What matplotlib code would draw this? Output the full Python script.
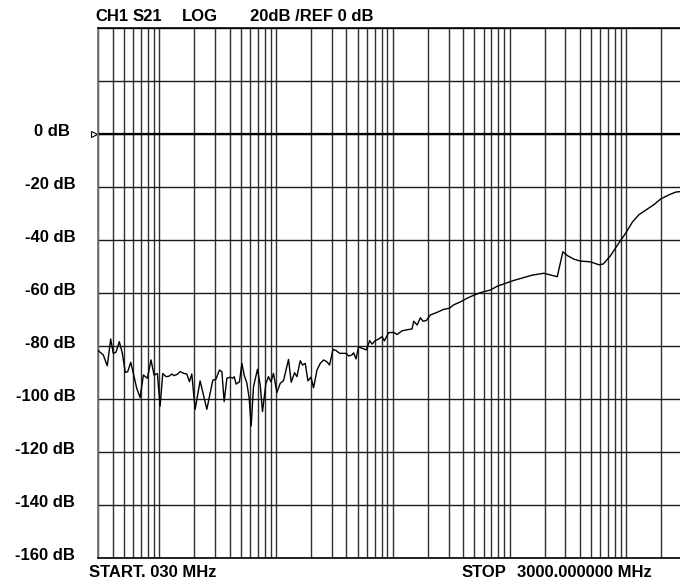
import matplotlib
matplotlib.use('Agg')
import matplotlib.pyplot as plt
import matplotlib.transforms as mtransforms
from matplotlib.ticker import LogLocator, NullFormatter, FixedLocator
import numpy as np

plt.rcParams['font.family'] = ['Liberation Sans', 'DejaVu Sans']

# Frekvens (MHz) og S21 (dB) lest av bildet
freq_mhz = [0.0300, 0.0331, 0.0358, 0.0383, 0.0403, 0.0425, 0.0454, 0.0482, 0.0511, 0.0536,
            0.0569, 0.0599, 0.0640, 0.0684, 0.0730, 0.0790, 0.0849, 0.0901, 0.0962, 0.1015,
            0.1070, 0.1142, 0.1212, 0.1279, 0.1338, 0.1428, 0.1506, 0.1630, 0.1719, 0.1810,
            0.1897, 0.2025, 0.2235, 0.2552, 0.2873, 0.3048, 0.3273, 0.3433, 0.3591, 0.3788,
            0.4045, 0.4266, 0.4375, 0.4551, 0.4857, 0.5093, 0.5331, 0.5623, 0.5884, 0.6119,
            0.6404, 0.6930, 0.7311, 0.7650, 0.8183, 0.8614, 0.9031, 0.9506, 1.016, 1.085,
            1.158, 1.278, 1.348, 1.439, 1.509, 1.610, 1.685, 1.778, 1.875, 1.989,
            2.094, 2.240, 2.390, 2.552, 2.729, 2.872, 3.072, 3.280, 3.501, 3.745,
            3.997, 4.182, 4.471, 4.615, 4.838, 5.093, 5.447, 5.931, 6.331, 6.638,
            7.084, 7.561, 8.085, 8.460, 9.209, 10.16, 10.87, 12.01, 13.25, 14.62,
            15.09, 16.14, 17.22, 18.17, 19.39, 20.98, 23.16, 25.22, 27.29, 30.53,
            33.24, 37.96, 43.32, 49.34, 56.31, 68.62, 78.33, 92.28, 108.7, 128.3,
            156.4, 196.6, 227.6, 256.2, 286.1, 312.1, 355.6, 405.8, 494.5, 582.7,
            635.4, 734.0, 847.7, 987.1, 1127, 1284, 1515, 1726, 1970, 2321,
            2649, 3000]
s21_db = [-81.7, -83.3, -87.4, -77.3, -82.7, -82.3, -78.3, -82.7, -89.9, -89.6,
          -86.1, -90.3, -95.9, -99.4, -90.9, -92.1, -85.2, -90.9, -90.3, -102.6,
          -90.3, -91.5, -91.3, -90.5, -91.1, -90.6, -89.6, -90.3, -90.5, -93.4,
          -90.5, -103.8, -93.1, -103.8, -92.8, -92.5, -89.0, -89.6, -100.9, -92.1,
          -91.7, -92.1, -91.5, -94.3, -93.4, -86.5, -90.9, -94.0, -99.7, -110.1,
          -95.3, -88.7, -94.6, -104.7, -94.0, -91.5, -93.4, -90.3, -97.5, -94.0,
          -93.0, -85.0, -93.6, -90.0, -91.5, -85.5, -87.1, -86.5, -93.1, -91.7,
          -95.7, -89.0, -86.5, -85.2, -85.9, -87.1, -81.2, -81.7, -82.7, -82.7,
          -82.7, -83.7, -83.3, -82.5, -84.8, -80.2, -80.8, -81.4, -77.9, -79.2,
          -77.9, -77.3, -76.4, -78.0, -74.9, -74.8, -75.6, -74.2, -73.8, -73.5,
          -70.6, -72.0, -69.3, -70.6, -70.3, -68.2, -67.5, -66.8, -66.1, -65.7,
          -64.4, -63.3, -61.9, -60.8, -59.8, -58.8, -57.4, -56.3, -55.2, -54.3,
          -53.2, -52.5, -53.2, -53.8, -44.4, -45.8, -47.2, -47.9, -48.2, -49.3,
          -49.0, -45.8, -41.6, -37.4, -33.2, -30.4, -28.3, -26.6, -24.5, -22.9,
          -21.9, -21.6]

y_levels = [0, -20, -40, -60, -80, -100, -120, -140, -160]
y_labels = ['0 dB', '-20 dB', '-40 dB', '-60 dB', '-80 dB', '-100 dB', '-120 dB', '-140 dB', '-160 dB']

W, H = 680, 584
fig = plt.figure(figsize=(W / 100, H / 100), dpi=100)
ax = fig.add_axes([98.3 / W, (H - 558.3) / H, (682 - 98.3) / W, (558.3 - 28) / H])

ax.set_xscale('log')
ax.set_xlim(0.03, 3000)
ax.set_ylim(-160, 40)

# Rutenett: loddrette linjer på 1..9 x 10^n
ax.xaxis.set_major_locator(LogLocator(base=10, subs=np.arange(1, 10), numticks=100))
ax.xaxis.set_minor_locator(FixedLocator([]))
ax.xaxis.set_major_formatter(NullFormatter())
ax.yaxis.set_major_locator(FixedLocator(np.arange(-160, 41, 20)))
ax.yaxis.set_major_formatter(NullFormatter())
ax.tick_params(length=0)
ax.grid(True, which='major', axis='x', color='#303030', linewidth=1.0)
ax.grid(True, which='major', axis='y', color='#1a1a1a', linewidth=1.0)
ax.axhline(0, color='black', linewidth=1.6, zorder=2)

for side in ['top', 'bottom']:
    ax.spines[side].set_color('black')
    ax.spines[side].set_linewidth(1.2)
ax.spines['left'].set_color('#707070')
ax.spines['left'].set_linewidth(1.2)
ax.spines['right'].set_visible(False)

ax.plot(freq_mhz, s21_db, color='black', linewidth=1.0, zorder=3)

# Y-etiketter
for v, lab in zip(y_levels, y_labels):
    dx = -28 if v == 0 else -23
    ax.annotate(lab, xy=(0, v), xycoords=('axes fraction', 'data'),
                xytext=(dx, -2), textcoords='offset pixels',
                ha='right', va='baseline', fontsize=12, fontweight='bold')

# Referansemarkør
trans = mtransforms.blended_transform_factory(ax.transAxes, ax.transData)
ax.plot([-4.5 / 583.7], [0], marker='>', markersize=5, markerfacecolor='white',
        markeredgecolor='black', markeredgewidth=0.8, transform=trans, clip_on=False)

# Tekst over og under
ty = (H - 20.7) / H
for x, s in [(95.7, 'CH1'), (132.7, 'S21'), (181.7, 'LOG'), (250, '20dB /REF 0 dB')]:
    fig.text(x / W, ty, s, ha='left', va='baseline', fontsize=12, fontweight='bold')

by = (H - 576.7) / H
fig.text(89 / W, by, 'START. 030 MHz', ha='left', va='baseline', fontsize=12, fontweight='bold')
fig.text(462 / W, by, 'STOP', ha='left', va='baseline', fontsize=12, fontweight='bold')
fig.text(516.7 / W, by, '3000.000000 MHz', ha='left', va='baseline', fontsize=12, fontweight='bold')

fig.savefig('out.png', dpi=100)
